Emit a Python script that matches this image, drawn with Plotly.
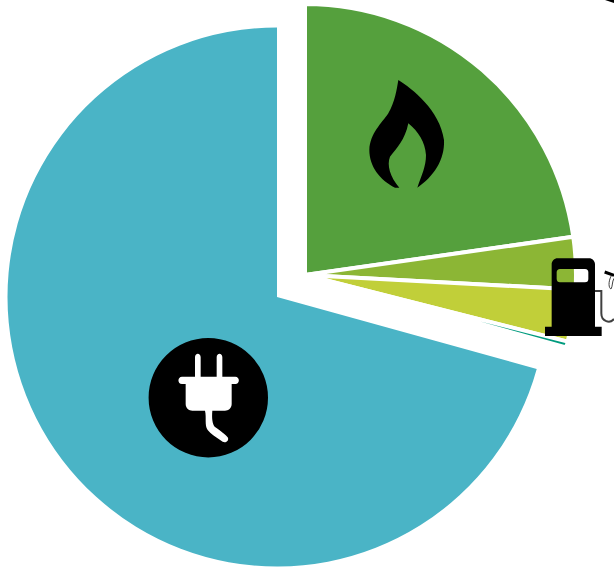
import re
import plotly.graph_objects as go

WIDTH, HEIGHT = 614, 572

# Data (share of total, %)
main_label = "Electricity"
main_value = 70.7
group_labels = ["Natural gas", "Petrol", "Diesel", "Other"]
group_values = [22.75, 3.1, 3.1, 0.35]

main_color = "#4AB4C6"
group_colors = ["#55A03D", "#8CB635", "#C1CF39", "#009B7E"]
CLEAR = "rgba(0,0,0,0)"


def domain(cx, cy, r):
    return dict(x=[(cx - r) / WIDTH, (cx + r) / WIDTH],
                y=[1 - (cy + r) / HEIGHT, 1 - (cy - r) / HEIGHT])


def to_paper(path, ox=0.0, oy=0.0, s=1.0):
    """Convert an icon outline from crop pixels to paper fractions."""
    nums = iter(re.findall(r"[A-Za-z]|-?\d+\.?\d*", path))
    out = []
    for tok in nums:
        if tok.isalpha():
            out.append(tok)
        else:
            x = (ox + float(tok) / s) / WIDTH
            y = 1 - (oy + float(next(nums)) / s) / HEIGHT
            out.append(f"{x:.5f},{y:.5f}")
    return " ".join(out)


group_total = sum(group_values)

fig = go.Figure()
fig.add_trace(go.Pie(
    labels=["rest", main_label],
    values=[group_total, main_value],
    sort=False, direction="clockwise", rotation=0,
    marker=dict(colors=[CLEAR, main_color], line=dict(width=0)),
    textinfo="none", hoverinfo="label+percent", showlegend=False,
    domain=domain(277, 297, 269.5),
))
fig.add_trace(go.Pie(
    labels=group_labels + ["rest"],
    values=group_values + [main_value],
    sort=False, direction="clockwise", rotation=0,
    marker=dict(colors=group_colors + [CLEAR],
                line=dict(color="white", width=[4, 4, 4, 4, 0])),
    textinfo="none", hoverinfo="label+percent", showlegend=False,
    domain=domain(305, 275, 271),
))

FLAME = ("M175 60 C215 85 300 150 312 240 C315 300 280 350 232 383 "
         "C245 345 258 320 258 285 C255 245 235 215 205 190 "
         "C195 240 170 265 150 290 C140 315 150 350 178 383 L165 383 "
         "C120 360 88 320 88 270 C90 220 125 190 145 160 C165 125 170 90 175 60 Z")
PLUG = ("M165 82 C165 68 182 68 182 82 L182 140 L230 140 L230 82 "
        "C230 68 247 68 247 82 L247 140 L286 140 C300 140 300 162 286 162 "
        "L275 162 L275 222 C275 235 265 242 255 242 L217 242 "
        "C215 265 217 280 224 290 C242 303 257 313 264 323 "
        "C267 335 255 339 248 335 C228 322 213 312 203 300 "
        "C193 285 200 262 195 242 L157 242 C147 242 137 235 137 222 "
        "L137 162 L126 162 C112 162 112 140 126 140 L165 140 Z")
PUMP = ("M281 100 L375 100 C385 100 393 108 393 118 L393 305 L413 305 "
        "L413 333 L243 333 L243 305 L263 305 L263 118 C263 108 271 100 281 100 Z "
        "M288 132 L363 132 C370 132 373 137 373 142 L373 162 "
        "C373 168 370 172 363 172 L288 172 C282 172 278 168 278 162 "
        "L278 142 C278 137 282 132 288 132 Z")
HOSE = "M393 198 L412 198 L412 265 C412 290 438 297 450 282"
NOZZLE_HEAD = "M422 141 L450 151"
NOZZLE_LOOP = "M442 152 C432 170 434 190 441 192 C446 185 444 170 450 160"
CORNER = "M605 0 L614 0 L614 3 Z"

shapes = [
    dict(type="path", path=to_paper(FLAME, 340, 60, 3), fillcolor="black",
         line=dict(width=0)),
    dict(type="circle", xref="paper", yref="paper",
         x0=(208.3 - 59.7) / WIDTH, x1=(208.3 + 59.7) / WIDTH,
         y0=1 - (397.7 + 59.7) / HEIGHT, y1=1 - (397.7 - 59.7) / HEIGHT,
         fillcolor="black", line=dict(width=0)),
    dict(type="path", path=to_paper(PLUG, 140, 330, 3), fillcolor="white",
         line=dict(width=0)),
    dict(type="path", path=to_paper(PUMP, 464, 225, 3), fillcolor="black",
         line=dict(width=0)),
    dict(type="path", path=to_paper(HOSE, 464, 225, 3), line=dict(color="#404040", width=2)),
    dict(type="path", path=to_paper(NOZZLE_HEAD, 464, 225, 3), line=dict(color="black", width=3)),
    dict(type="path", path=to_paper(NOZZLE_LOOP, 464, 225, 3), line=dict(color="#404040", width=1)),
    dict(type="path", path=to_paper(CORNER), fillcolor="black", line=dict(width=0)),
]
for s in shapes:
    s.setdefault("xref", "paper")
    s.setdefault("yref", "paper")

fig.update_layout(
    width=WIDTH, height=HEIGHT,
    margin=dict(l=0, r=0, t=0, b=0),
    paper_bgcolor="white", plot_bgcolor="white",
    showlegend=False,
    shapes=shapes,
)

fig.write_html("out.html", config=dict(displayModeBar=False),
               post_script="document.body.style.margin='0';document.body.style.overflow='hidden';")
